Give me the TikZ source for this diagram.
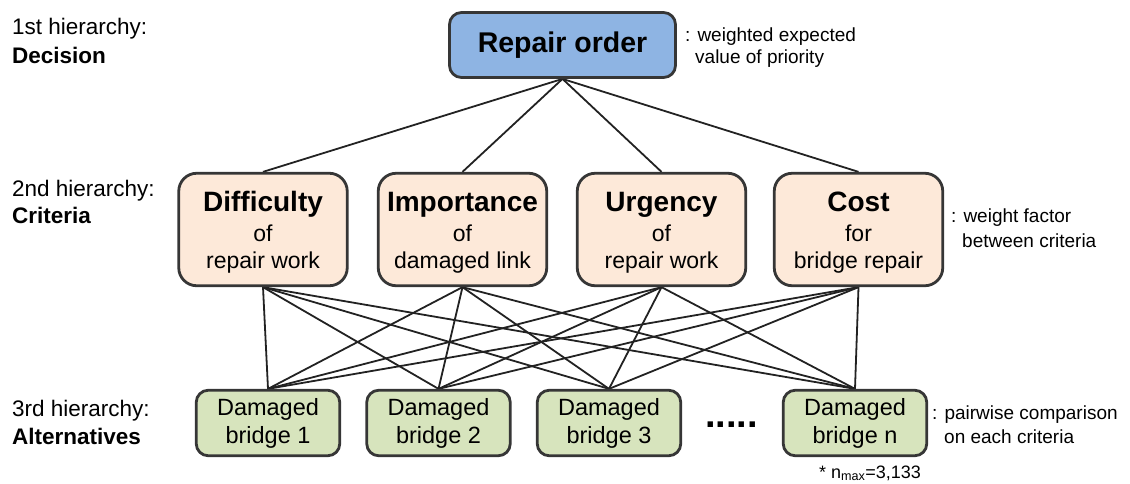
\documentclass[tikz,border=0pt]{standalone}
\usepackage{fontspec}
\setmainfont{Liberation Sans}
\definecolor{decfill}{HTML}{8EB4E3}
\definecolor{crifill}{HTML}{FDE9D9}
\definecolor{altfill}{HTML}{D7E4BD}
\definecolor{boxline}{HTML}{363636}
\definecolor{linkcol}{HTML}{222222}
\pgfdeclarelayer{bg}
\pgfsetlayers{bg,main}
% three-line criterion label: bold heading, connector word, subject
\newcommand{\critlabel}[3]{\begin{tabular}{c}\rule{0pt}{30pt}{\fontsize{28}{30}\selectfont\bfseries #1}\\[3pt] #2\\ #3\end{tabular}}
\begin{document}
\begin{tikzpicture}[x=1pt,y=-1pt,
  box/.style={draw=boxline, line width=2.8pt, align=center, inner sep=0pt},
  decision/.style={box, fill=decfill, rounded corners=12pt,
    minimum width=226pt, minimum height=65pt,
    font=\fontsize{28.5}{32}\selectfont\bfseries},
  criterion/.style={box, fill=crifill, rounded corners=18pt,
    minimum width=168.5pt, minimum height=112.5pt,
    font=\fontsize{23}{27}\selectfont},
  alternative/.style={box, fill=altfill, rounded corners=12pt,
    minimum width=143.5pt, minimum height=65.5pt,
    font=\fontsize{23.5}{28}\selectfont},
  level/.style={anchor=base west, inner sep=0pt, font=\fontsize{22.5}{26}\selectfont},
  levelname/.style={level, font=\fontsize{22.5}{26}\selectfont\bfseries},
  note/.style={anchor=base west, inner sep=0pt, font=\fontsize{19}{22}\selectfont},
  link/.style={draw=linkcol, line width=1.8pt}]
\useasboundingbox (0,0) rectangle (1130,483);

% level captions on the left
\node[level] (l1a) at (12,34) {1st hierarchy:};
\node[levelname] (l1b) at (12,63) {Decision};
\node[level] (l2a) at (12,196) {2nd hierarchy:};
\node[levelname] (l2b) at (12,223) {Criteria};
\node[level] (l3a) at (12,416) {3rd hierarchy:};
\node[levelname] (l3b) at (12,444) {Alternatives};

% goal
\node[decision] (goal) at (562.5,45) {Repair order};

% criteria
\node[criterion] (c1) at (263,229.5) {\critlabel{Difficulty}{of}{repair work}};
\node[criterion] (c2) at (462.5,229.5) {\critlabel{Importance}{of}{damaged link}};
\node[criterion] (c3) at (661.5,229.5) {\critlabel{Urgency}{of}{repair work}};
\node[criterion] (c4) at (858.5,229.5) {\critlabel{Cost}{for}{bridge repair}};

% alternatives
\node[alternative] (a1) at (268,423) {Damaged\\bridge 1};
\node[alternative] (a2) at (438.5,423) {Damaged\\bridge 2};
\node[alternative] (a3) at (609,423) {Damaged\\bridge 3};
\node[alternative] (an) at (855,423) {Damaged\\bridge n};
\node[anchor=base, inner sep=0pt, font=\fontsize{38}{40}\selectfont\bfseries] (dots) at (731.5,427) {.....};

% side notes
\node[note] (n1a) at (685,41) {: weighted expected};
\node[note] (n1b) at (695,63) {value of priority};
\node[note] (n2a) at (951,222) {: weight factor};
\node[note] (n2b) at (962,247) {between criteria};
\node[note] (n3a) at (932,419) {: pairwise comparison};
\node[note] (n3b) at (944,443) {on each criteria};
\node[anchor=base, inner sep=0pt, font=\fontsize{18}{20}\selectfont] (nmax) at (870,478) {* n\textsubscript{max}=3,133};

% hierarchy links
\begin{pgfonlayer}{bg}
  \foreach \c in {c1,c2,c3,c4}{
    \draw[link] (goal.south) -- (\c.north);
    \foreach \a in {a1,a2,a3,an}
      \draw[link] (\c.south) -- (\a.north);
  }
\end{pgfonlayer}
\end{tikzpicture}
\end{document}
